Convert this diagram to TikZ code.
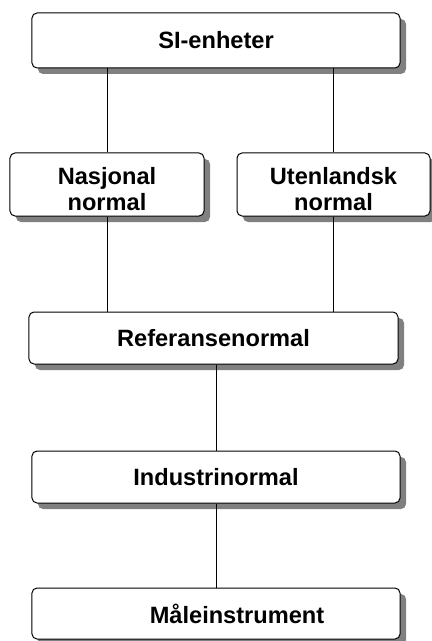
\documentclass[tikz,border=0pt]{standalone}
\usepackage{fontspec}
\setmainfont{Liberation Sans}
\usetikzlibrary{shadows}
\begin{document}
\begin{tikzpicture}[x=1bp,y=-1bp,
  box/.style={draw=black, line width=1bp, fill=white, rounded corners=5bp,
    inner sep=0pt, align=center,
    font=\bfseries\fontsize{23.6bp}{26bp}\selectfont,
    drop shadow={fill=black!50, opacity=1, shadow xshift=6bp, shadow yshift=-6bp}},
  conn/.style={draw=black, line width=1bp}]
\useasboundingbox (0,0) rectangle (431,641);
\node[box, minimum width=368bp, minimum height=55bp] (si) at (216,40.5) {SI-enheter};
\node[box, minimum width=194bp, minimum height=63bp] (nas) at (107,184.5) {\rule{0pt}{26bp}Nasjonal\\normal};
\node[box, minimum width=193bp, minimum height=63bp] (ute) at (333.5,184.5) {\rule{0pt}{26bp}Utenlandsk\\normal};
\node[box, minimum width=369bp, minimum height=52bp] (ref) at (213.5,338) {Referansenormal};
\node[box, minimum width=368bp, minimum height=52bp] (ind) at (216,477) {Industrinormal};
\node[box, minimum width=368bp, minimum height=51bp] (mal) at (216,613.5) {\hspace*{42bp}Måleinstrument};
\draw[conn] (nas.north |- si.south) -- (nas.north);
\draw[conn] (ute.north |- si.south) -- (ute.north);
\draw[conn] (nas.south) -- (nas.south |- ref.north);
\draw[conn] (ute.south) -- (ute.south |- ref.north);
\draw[conn] (ind.north |- ref.south) -- (ind.north);
\draw[conn] (ind.south) -- (ind.south |- mal.north);
\end{tikzpicture}
\end{document}
